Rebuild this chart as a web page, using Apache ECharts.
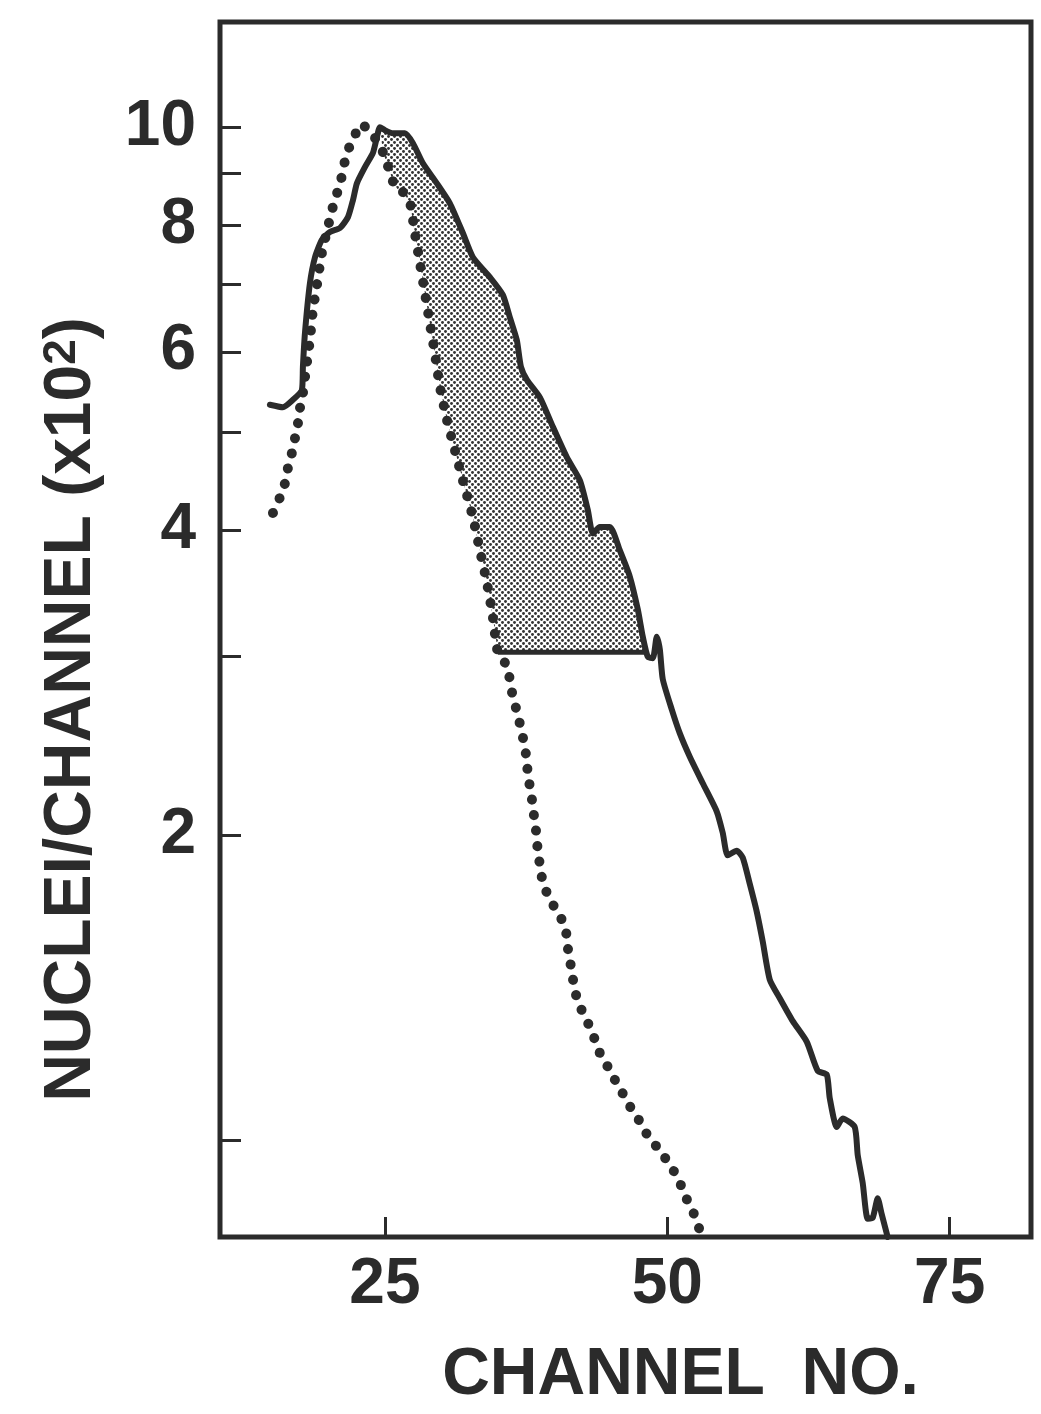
<!DOCTYPE html>
<html>
<head>
<meta charset="utf-8">
<script src="https://cdn.jsdelivr.net/npm/echarts@6/dist/echarts.min.js"></script>
<style>
html,body{margin:0;padding:0;background:#fff;}
#chart{width:1041px;height:1414px;}
</style>
</head>
<body>
<div id="chart"></div>
<script>
// ---- data ----
const solidChannels = [14.82,15.97,16.86,17.65,17.74,17.92,18.36,18.81,19.42,20.13,21.02,21.73,22.17,22.52,23.23,23.94,24.29,24.56,25.0,25.71,26.77,27.48,28.36,29.60,30.75,31.90,32.79,34.29,35.44,36.06,36.68,37.04,37.57,38.72,39.87,41.11,42.26,42.96,43.41,44.03,44.91,45.80,46.68,47.39,47.83,48.27,48.72,49.07,49.34,49.60,50.40,51.11,51.99,53.14,54.38,54.91,55.35,56.15,56.68,57.30,57.92,58.45,59.07,59.96,61.11,62.35,63.32,64.12,64.38,65.0,65.53,66.59,66.86,67.30,67.74,68.19,68.63,68.98,69.51];
const solidValues = [5.32,5.29,5.38,5.50,5.80,6.26,7.01,7.44,7.74,7.88,7.95,8.15,8.47,8.80,9.13,9.43,9.77,10.0,9.93,9.86,9.86,9.64,9.21,8.80,8.41,7.86,7.44,7.11,6.83,6.49,6.16,5.80,5.63,5.41,5.06,4.72,4.48,4.19,3.97,4.03,4.03,3.82,3.60,3.34,3.14,3.00,2.99,3.14,3.05,2.85,2.66,2.52,2.39,2.25,2.11,2.01,1.91,1.93,1.90,1.79,1.68,1.57,1.44,1.38,1.31,1.25,1.17,1.16,1.10,1.03,1.05,1.03,0.966,0.907,0.836,0.838,0.876,0.845,0.802];

const dottedChannels = [15.09,15.71,16.15,16.42,16.77,17.04,17.30,17.48,17.74,18.01,18.36,18.63,18.98,19.42,19.96,20.31,20.66,21.11,21.37,21.73,22.17,22.88,23.85,24.82,25.27,25.71,26.15,26.59,27.21,27.65,28.10,28.54,28.98,29.42,29.87,30.49,31.19,31.90,32.79,33.41,34.03,34.56,35.0,35.88,36.06,36.33,36.68,37.04,37.30,37.57,37.65,37.92,38.10,38.27,38.45,38.54,38.81,38.98,39.51,40.22,40.93,41.11,41.28,41.55,41.73,42.08,42.61,43.32,43.76,44.29,45.0,45.62,46.33,46.95,47.74,48.36,49.42,50.13,50.84,51.37,51.90,52.52,52.88];
const dottedValues = [4.16,4.31,4.45,4.61,4.77,4.93,5.10,5.28,5.46,5.76,6.16,6.60,6.98,7.51,7.97,8.28,8.53,8.87,9.17,9.49,9.71,10.07,9.86,9.45,9.15,8.84,8.67,8.63,8.43,7.86,7.34,6.86,6.40,5.98,5.54,5.14,4.80,4.48,4.12,3.82,3.55,3.28,3.03,2.93,2.84,2.74,2.65,2.55,2.47,2.37,2.29,2.21,2.13,2.06,1.99,1.92,1.85,1.79,1.74,1.68,1.63,1.58,1.52,1.47,1.42,1.37,1.33,1.28,1.24,1.20,1.17,1.13,1.10,1.066,1.037,1.005,0.975,0.947,0.922,0.893,0.865,0.838,0.813];

// shaded band: above this level, between the dotted and the solid curve
const shadeLevel = 3.03;
const shadeFromChannel = 35.0;
const shadeToChannel = 48.1;
const shadeTopSolidChannel = 24.56;
const shadeTopDottedChannel = 24.82;

const xTickValues = [25, 50, 75];
const yTickValues = [1, 2, 3, 4, 5, 6, 7, 8, 9, 10];
const yLabelValues = [2, 4, 6, 8, 10];

const xTitle = 'CHANNEL  NO.';
const yTitle = 'NUCLEI/CHANNEL (x10{sup|2})';

// ---- build ----
const INK = '#2b2b2b';
const solidData = solidChannels.map((c, i) => [c, solidValues[i]]);
const dottedData = dottedChannels.map((c, i) => [c, dottedValues[i]]);

function makeStipple() {
  const cv = document.createElement('canvas');
  cv.width = 6; cv.height = 6;
  const ctx = cv.getContext('2d');
  ctx.fillStyle = '#ffffff';
  ctx.fillRect(0, 0, 6, 6);
  ctx.fillStyle = '#333333';
  [[1.5, 1.5], [4.5, 4.5]].forEach(p => {
    ctx.beginPath(); ctx.arc(p[0], p[1], 1.45, 0, Math.PI * 2); ctx.fill();
  });
  return cv;
}
const stipple = makeStipple();

const chart = echarts.init(document.getElementById('chart'), null, {renderer: 'canvas'});

const labelFont = {fontFamily: '"Liberation Sans", Arial, sans-serif', fontWeight: 'bold', color: INK};

const option = {
  backgroundColor: '#ffffff',
  animation: false,
  grid: {
    left: 220, right: 10, top: 22, bottom: 177,
    show: true, borderColor: INK, borderWidth: 5, backgroundColor: 'transparent'
  },
  xAxis: {
    type: 'value',
    min: 10.4, max: 82.2,
    name: xTitle,
    nameLocation: 'middle',
    nameGap: 106,
    nameTextStyle: Object.assign({fontSize: 66, padding: [0, 0, 0, 110]}, labelFont),
    axisLine: {show: false},
    splitLine: {show: false},
    axisTick: {show: true, inside: true, length: 20, customValues: xTickValues, lineStyle: {color: INK, width: 3}},
    axisLabel: Object.assign({show: true, fontSize: 64, margin: 16, customValues: xTickValues,
      formatter: v => String(v)}, labelFont)
  },
  yAxis: {
    type: 'log',
    logBase: 10,
    min: 0.802, max: 12.7,
    name: yTitle,
    nameLocation: 'middle',
    nameGap: 115,
    nameTextStyle: Object.assign({
      fontSize: 66, padding: [0, 160, 0, 0],
      rich: {sup: {fontSize: 46, verticalAlign: 'top', fontFamily: '"Liberation Sans", Arial, sans-serif', fontWeight: 'bold', color: INK}}
    }, labelFont),
    axisLine: {show: false},
    splitLine: {show: false},
    minorTick: {show: false},
    axisTick: {show: true, inside: true, length: 21, customValues: yTickValues, lineStyle: {color: INK, width: 3}},
    axisLabel: Object.assign({show: true, fontSize: 64, margin: 24, customValues: yLabelValues,
      formatter: v => String(Math.round(v))}, labelFont)
  },
  series: [
    {
      type: 'custom',
      coordinateSystem: 'cartesian2d',
      z: 1,
      silent: true,
      data: [[shadeFromChannel, shadeLevel]],
      renderItem: function (params, api) {
        const pts = [];
        solidData.forEach(p => { if (p[0] >= shadeTopSolidChannel && p[0] <= shadeToChannel) pts.push(api.coord(p)); });
        pts.push(api.coord([shadeToChannel, shadeLevel]));
        pts.push(api.coord([shadeFromChannel, shadeLevel]));
        for (let i = dottedData.length - 1; i >= 0; i--) {
          const p = dottedData[i];
          if (p[0] >= shadeTopDottedChannel && p[0] < shadeFromChannel) pts.push(api.coord(p));
        }
        return {type: 'polygon', shape: {points: pts}, style: {fill: {image: stipple, repeat: 'repeat'}, stroke: null}};
      }
    },
    {
      type: 'line',
      z: 3,
      data: [[shadeFromChannel, shadeLevel], [shadeToChannel, shadeLevel]],
      showSymbol: false,
      lineStyle: {color: INK, width: 5}
    },
    {
      type: 'line',
      z: 4,
      data: dottedData,
      showSymbol: false,
      smooth: 0.2,
      lineStyle: {color: INK, width: 10, type: [0.1, 15.5], cap: 'round'}
    },
    {
      type: 'line',
      z: 5,
      data: solidData,
      showSymbol: false,
      smooth: 0.2,
      lineStyle: {color: INK, width: 6, join: 'round', cap: 'round'}
    }
  ]
};
chart.setOption(option);
</script>
</body>
</html>
